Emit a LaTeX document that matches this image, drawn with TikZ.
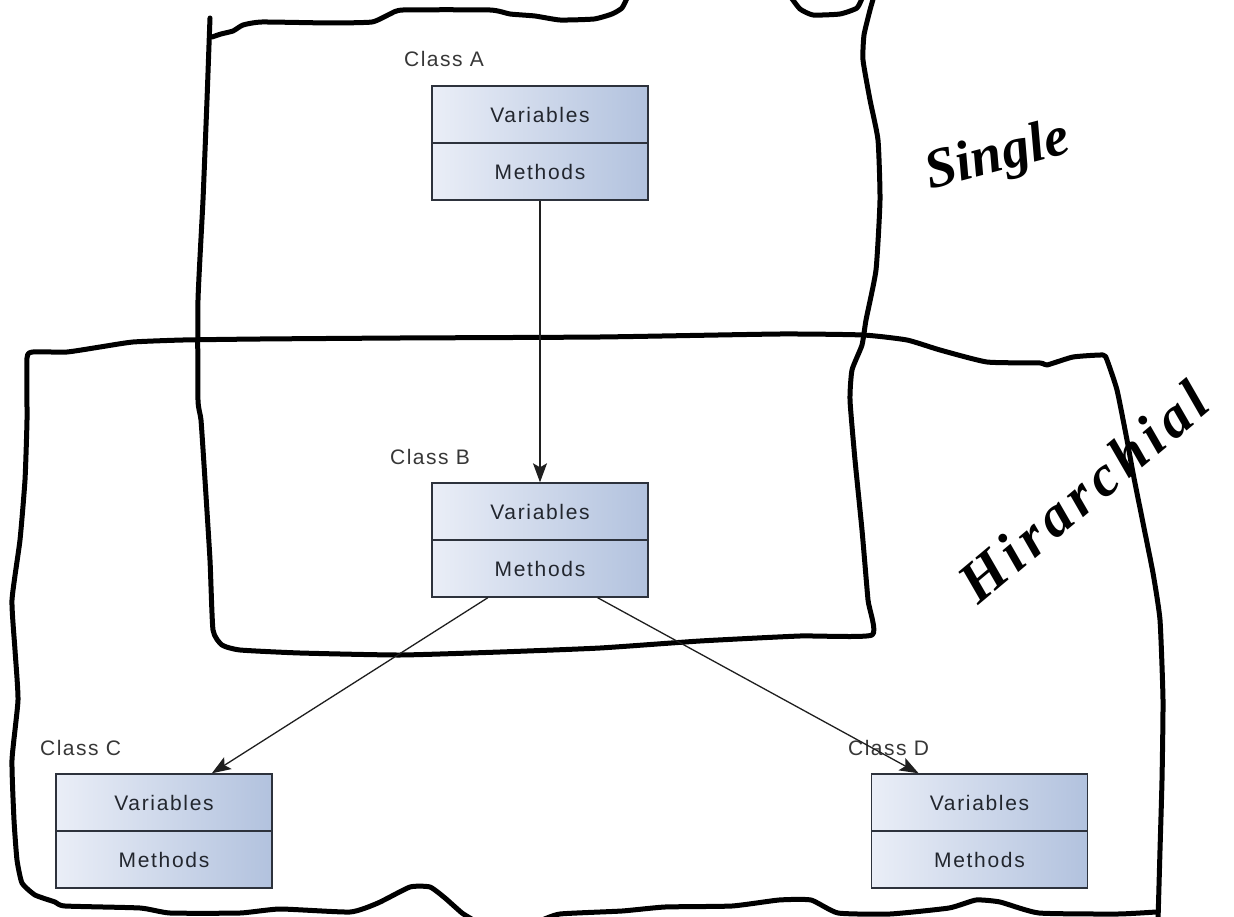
\documentclass[tikz,border=0pt]{standalone}
\usepackage{fontspec}
\setmainfont{Liberation Sans}
\newfontfamily\handfont{Liberation Serif}
\usetikzlibrary{arrows.meta,calc}

\definecolor{boxleft}{RGB}{234,238,247}
\definecolor{boxright}{RGB}{178,194,222}
\definecolor{boxline}{RGB}{45,50,60}
\definecolor{boxtext}{RGB}{34,38,46}
\definecolor{labeltext}{RGB}{55,55,55}

\tikzset{
  part/.style={draw=boxline, line width=1.4pt, left color=boxleft, right color=boxright,
    minimum width=216pt, minimum height=57pt, inner sep=0pt, text=boxtext,
    font=\fontsize{21}{21}\selectfont\addfontfeature{LetterSpace=8}},
  lbl/.style={anchor=base west, inner sep=0pt, text=labeltext,
    font=\fontsize{21}{21}\selectfont\addfontfeature{LetterSpace=7}},
  inherit/.style={draw=black!88, line width=1.3pt,
    -{Stealth[length=19pt,width=14pt,inset=4pt]}},
  sketch/.style={line width=5pt, line cap=round, line join=round},
  hand/.style={inner sep=0pt}
}

\begin{document}
\begin{tikzpicture}[x=1pt,y=-1pt]
\path[use as bounding box] (0,0) rectangle (1234,917);
\clip (0,0) rectangle (1234,917);
\fill[white] (0,0) rectangle (1234,917);

% --- freehand frame: single inheritance ---
\draw[sketch] plot[smooth, tension=0.3] coordinates {
  (628,-4) (622,8) (612,14) (594,19) (560,20) (535,16) (510,14) (490,10)
  (403,10) (390,14) (372,22) (330,23) (262,22) (243,25) (233,31) (221,34) (212,37)};
\draw[sketch] plot[smooth, tension=0.3] coordinates {
  (790,-4) (800,9) (813,15) (840,14) (857,8) (863,-4)};
\draw[sketch] plot[smooth, tension=0.3] coordinates {
  (210,18) (209,45) (207,100) (203,200) (198,300) (198,400) (201,420) (205,480)
  (210,560) (213,630) (222,645) (240,650) (300,653) (400,655) (500,652)
  (600,648) (700,641) (800,636) (872,635) (868,600) (862,530) (855,460)
  (850,400) (852,370) (862,345) (866,320) (876,270) (880,200) (878,140)
  (870,100) (863,60) (864,35) (870,10) (874,-4)};

% --- freehand frame: hierarchical inheritance ---
\draw[sketch] plot[smooth, tension=0.3] coordinates {
  (475,921) (462,913) (445,898) (430,887) (410,887) (378,903) (350,912)
  (280,909) (240,913) (170,913) (140,908) (65,906) (55,902) (35,895)
  (22,883) (17,860) (14,820) (12,760) (18,700) (15,650) (12,600) (20,540)
  (25,480) (27,420) (27,358) (33,352) (67,352) (100,347) (133,342) (183,340)
  (260,339) (400,338) (600,337) (780,334) (863,335) (907,340) (940,350)
  (987,362) (1040,363) (1047,365) (1073,357) (1103,355) (1107,360)
  (1117,390) (1127,440) (1133,473) (1143,523) (1153,573) (1160,620)
  (1163,700) (1162,780) (1160,850) (1158,921)};
\draw[sketch] plot[smooth, tension=0.3] coordinates {
  (540,921) (560,914) (622,911) (665,907) (732,906) (779,900) (811,900)
  (838,913) (890,914) (949,908) (976,900) (1000,902) (1039,913)
  (1118,914) (1156,912)};

% --- class boxes ---
\node[part] (Av) at (540,114.5) {Variables};
\node[part] (Am) at (540,171.5) {Methods};
\node[part] (Bv) at (540,511.5) {Variables};
\node[part] (Bm) at (540,568.5) {Methods};
\node[part] (Cv) at (164,802.5) {Variables};
\node[part] (Cm) at (164,859.5) {Methods};
\node[part] (Dv) at (979.5,802.5) {Variables};
\node[part] (Dm) at (979.5,859.5) {Methods};

\node[lbl] (Alab) at (404,67) {Class A};
\node[lbl] (Blab) at (390,464) {Class B};
\node[lbl] (Clab) at (40,755) {Class C};
\node[lbl] (Dlab) at (848,755) {Class D};

% --- inheritance arrows ---
\draw[inherit] (Am.south) -- (Bv.north);
\draw[inherit] ($(Bm.south west)!0.26!(Bm.south east)$)
  -- ($(Cv.north west)!0.72!(Cv.north east)$);
\draw[inherit] ($(Bm.south west)!0.765!(Bm.south east)$)
  -- ($(Dv.north west)!0.22!(Dv.north east)$);

% --- handwritten notes ---
\node[hand, rotate=15, font=\handfont\bfseries\itshape\fontsize{56}{56}\selectfont]
  (single) at (998,158) {Single};
\node[hand, rotate=40,
  font=\handfont\bfseries\itshape\fontsize{58}{58}\selectfont\addfontfeature{LetterSpace=10}]
  (hier) at (1083,492) {Hirarchial};
\end{tikzpicture}
\end{document}
